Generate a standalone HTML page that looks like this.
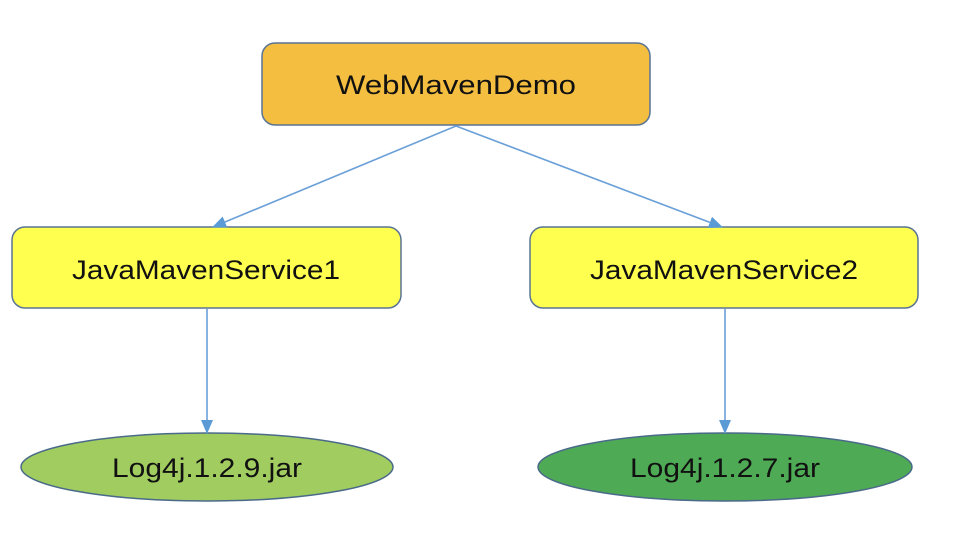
<!DOCTYPE html>
<html><head><style>
body{margin:0;background:#fff;width:960px;height:528px;overflow:hidden}
</style></head><body>
<svg width="960" height="528" viewBox="0 0 960 528" xmlns="http://www.w3.org/2000/svg" font-family="Liberation Sans, sans-serif" font-size="27">
<defs><marker id="a" markerWidth="14" markerHeight="12" refX="13" refY="6" orient="auto" markerUnits="userSpaceOnUse"><path d="M0,0 L14,6 L0,12 Z" fill="#5b9bd5"/></marker></defs>
<rect x="262" y="43" width="388" height="82" rx="13" fill="#f4bf40" stroke="#5a7394" stroke-width="1.5"/>
<text x="456" y="94" text-anchor="middle" fill="#111" textLength="240" lengthAdjust="spacingAndGlyphs">WebMavenDemo</text>
<rect x="12" y="227" width="389" height="81" rx="13" fill="#ffff4f" stroke="#5a7394" stroke-width="1.5"/>
<text x="206" y="279" text-anchor="middle" fill="#111" textLength="268" lengthAdjust="spacingAndGlyphs">JavaMavenService1</text>
<rect x="530" y="227" width="388" height="81" rx="13" fill="#ffff4f" stroke="#5a7394" stroke-width="1.5"/>
<text x="724" y="279" text-anchor="middle" fill="#111" textLength="268" lengthAdjust="spacingAndGlyphs">JavaMavenService2</text>
<ellipse cx="207" cy="467" rx="186" ry="34" fill="#a0cc60" stroke="#4a6a8a" stroke-width="1.5"/>
<text x="207" y="477" text-anchor="middle" fill="#111" textLength="190" lengthAdjust="spacingAndGlyphs">Log4j.1.2.9.jar</text>
<ellipse cx="725" cy="467" rx="187" ry="34" fill="#4eaa55" stroke="#4a6a8a" stroke-width="1.5"/>
<text x="725" y="477" text-anchor="middle" fill="#111" textLength="190" lengthAdjust="spacingAndGlyphs">Log4j.1.2.7.jar</text>
<g stroke="#6a9fd8" stroke-width="1.6" fill="none">
<line x1="456" y1="126" x2="213" y2="227" marker-end="url(#a)"/>
<line x1="456" y1="126" x2="722" y2="227" marker-end="url(#a)"/>
<line x1="207" y1="309" x2="207" y2="433" marker-end="url(#a)"/>
<line x1="725" y1="309" x2="725" y2="433" marker-end="url(#a)"/>
</g>
</svg>
</body></html>
